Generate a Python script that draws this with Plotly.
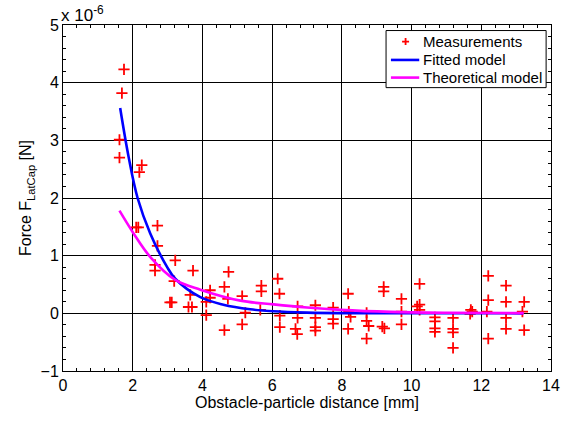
import plotly.graph_objects as go

# measurements (distance in mm, force in 1e-6 N)
meas_x = [1.75, 1.69, 1.62, 1.62, 2.26, 2.19, 2.10, 2.16, 2.71, 2.71, 3.22, 2.64, 2.64,
          3.73, 4.75, 3.19, 4.63, 4.22, 3.65, 4.22, 5.14, 4.73, 3.07, 3.12, 4.11, 3.60,
          3.70, 5.23, 4.11, 5.14, 4.63,
          5.69, 5.69, 5.66, 6.16, 6.21, 6.22, 6.22, 6.67, 6.72, 6.73, 6.73, 7.24, 7.24,
          7.24, 7.24, 7.75, 7.75, 7.75, 8.18, 8.20, 8.25, 8.18, 8.71, 8.71, 8.77, 8.71,
          9.16, 9.22, 9.20, 9.20,
          9.71, 9.71, 9.71, 10.23, 10.16, 10.23, 10.23, 10.67, 10.67, 10.67, 10.67,
          11.19, 11.19, 11.19, 11.19, 11.70, 11.74, 11.68, 12.20, 12.20, 12.16, 12.20,
          12.71, 12.71, 12.71, 12.71, 13.23, 13.18, 13.23]
meas_y = [4.23, 3.82, 3.01, 2.70, 2.57, 2.45, 1.49, 1.49, 1.52, 1.17, 0.92, 0.84, 0.74,
          0.74, 0.72, 0.56, 0.46, 0.40, 0.32, 0.27, 0.30, 0.25, 0.19, 0.19, 0.20, 0.11,
          0.11, 0.01, -0.03, -0.19, -0.29,
          0.48, 0.38, 0.06, 0.60, 0.34, -0.04, -0.24, -0.27, -0.36, 0.12, -0.08, 0.14, -0.08,
          -0.24, -0.30, 0.10, -0.10, -0.18, 0.34, 0.03, -0.06, -0.27, 0.01, -0.13, -0.22, -0.44,
          -0.23, -0.26, 0.46, 0.38,
          0.25, 0.03, -0.19, 0.51, 0.12, 0.15, 0.06, -0.07, -0.14, -0.26, -0.32,
          -0.08, -0.27, -0.33, -0.60, 0.06, 0.03, -0.01, 0.65, 0.23, 0.03, -0.44,
          0.48, 0.20, -0.08, -0.27, 0.20, 0.03, -0.29]

# fitted model curve
fit_x = [1.64, 1.88, 2.14, 2.50, 2.98, 3.22, 3.94, 4.60, 5.37, 6.03, 7.00, 8.50, 10.0, 13.2]
fit_y = [3.56, 2.72, 2.00, 1.39, 0.81, 0.60, 0.28, 0.15, 0.07, 0.035, 0.013, 0.003, 0.001, 0.0]

# theoretical model curve
theo_x = [1.62, 2.02, 2.50, 3.22, 3.94, 5.09, 6.04, 7.00, 7.96, 9.40, 11.0, 13.22]
theo_y = [1.78, 1.39, 0.98, 0.58, 0.41, 0.22, 0.155, 0.10, 0.06, 0.025, 0.01, 0.004]

legend_names = ['Measurements', 'Fitted model', 'Theoretical model']

FONT = "Liberation Sans, Arial, sans-serif"
RED, BLUE, MAGENTA = 'red', '#0000ff', '#ff00ff'

fig = go.Figure()
fig.add_trace(go.Scatter(
    x=meas_x, y=meas_y, mode='markers', name=legend_names[0],
    marker=dict(symbol='cross-thin', size=8, color=RED,
                line=dict(color=RED, width=1.8)),
))
fig.add_trace(go.Scatter(
    x=fit_x, y=fit_y, mode='lines', name=legend_names[1],
    line=dict(color=BLUE, width=2.6, shape='spline'),
))
fig.add_trace(go.Scatter(
    x=theo_x, y=theo_y, mode='lines', name=legend_names[2],
    line=dict(color=MAGENTA, width=2.6, shape='spline'),
))

axis_common = dict(
    showline=True, linecolor='black', linewidth=1, mirror='ticks',
    ticks='inside', ticklen=5, tickcolor='black',
    showgrid=True, gridcolor='black', gridwidth=1,
    zeroline=False, tickfont=dict(size=16, color='black'),
    automargin=False,
)

fig.update_xaxes(
    range=[0, 14], dtick=2, tick0=0,
    minor=dict(dtick=0.4, ticks='inside', ticklen=3, tickcolor='black', showgrid=False),
    title=dict(text='Obstacle-particle distance [mm]', font=dict(size=16), standoff=2),
    **axis_common,
)
fig.update_yaxes(
    range=[-1, 5], dtick=1, tick0=0,
    minor=dict(dtick=0.2, ticks='inside', ticklen=3, tickcolor='black', showgrid=False),
    title=dict(text='Force F<sub>LatCap</sub> [N]', font=dict(size=16), standoff=4),
    **axis_common,
)

fig.add_annotation(
    text='x 10<sup>-6</sup>', xref='paper', yref='paper', x=0, y=1.0,
    xanchor='left', yanchor='bottom', showarrow=False,
    font=dict(size=17, color='black'), xshift=-4, yshift=-2,
)

# MATLAB-style legend box drawn by hand (tighter rows than plotly's legend)
PW, PH = 488.0, 346.0          # plot area size in px
def px(dx): return dx / PW
def py(dy): return dy / PH

box_x0, box_x1, box_y1, box_y0 = 0.662, 0.990, 0.984, 0.819
rows_y = [0.952, 0.899, 0.848]
fig.add_shape(type='rect', xref='paper', yref='paper', layer='above',
              x0=box_x0, x1=box_x1, y0=box_y0, y1=box_y1,
              line=dict(color='black', width=1), fillcolor='white')
# marker sample
mx, my = 0.702, rows_y[0]
fig.add_shape(type='path', xref='paper', yref='paper', layer='above',
              path=f'M {mx - px(3.5)} {my} L {mx + px(3.5)} {my} '
                   f'M {mx} {my - py(3.5)} L {mx} {my + py(3.5)}',
              line=dict(color=RED, width=1.8))
for yy, col in zip(rows_y[1:], [BLUE, MAGENTA]):
    fig.add_shape(type='line', xref='paper', yref='paper', layer='above',
                  x0=0.672, x1=0.730, y0=yy, y1=yy,
                  line=dict(color=col, width=2.6))
for yy, name in zip(rows_y, legend_names):
    fig.add_annotation(text=name, xref='paper', yref='paper', x=0.733, y=yy,
                       xanchor='left', yanchor='middle', showarrow=False,
                       font=dict(size=15, color='black'))

fig.update_layout(
    width=576, height=422,
    margin=dict(l=63, r=25, t=25, b=51),
    paper_bgcolor='white', plot_bgcolor='white',
    font=dict(family=FONT, color='black'),
    showlegend=False,
)

# drop the page's default body margin so the figure sits at the window corner
fig.write_html("out.html", config={'displayModeBar': False},
               post_script="document.body.style.margin='0';")
